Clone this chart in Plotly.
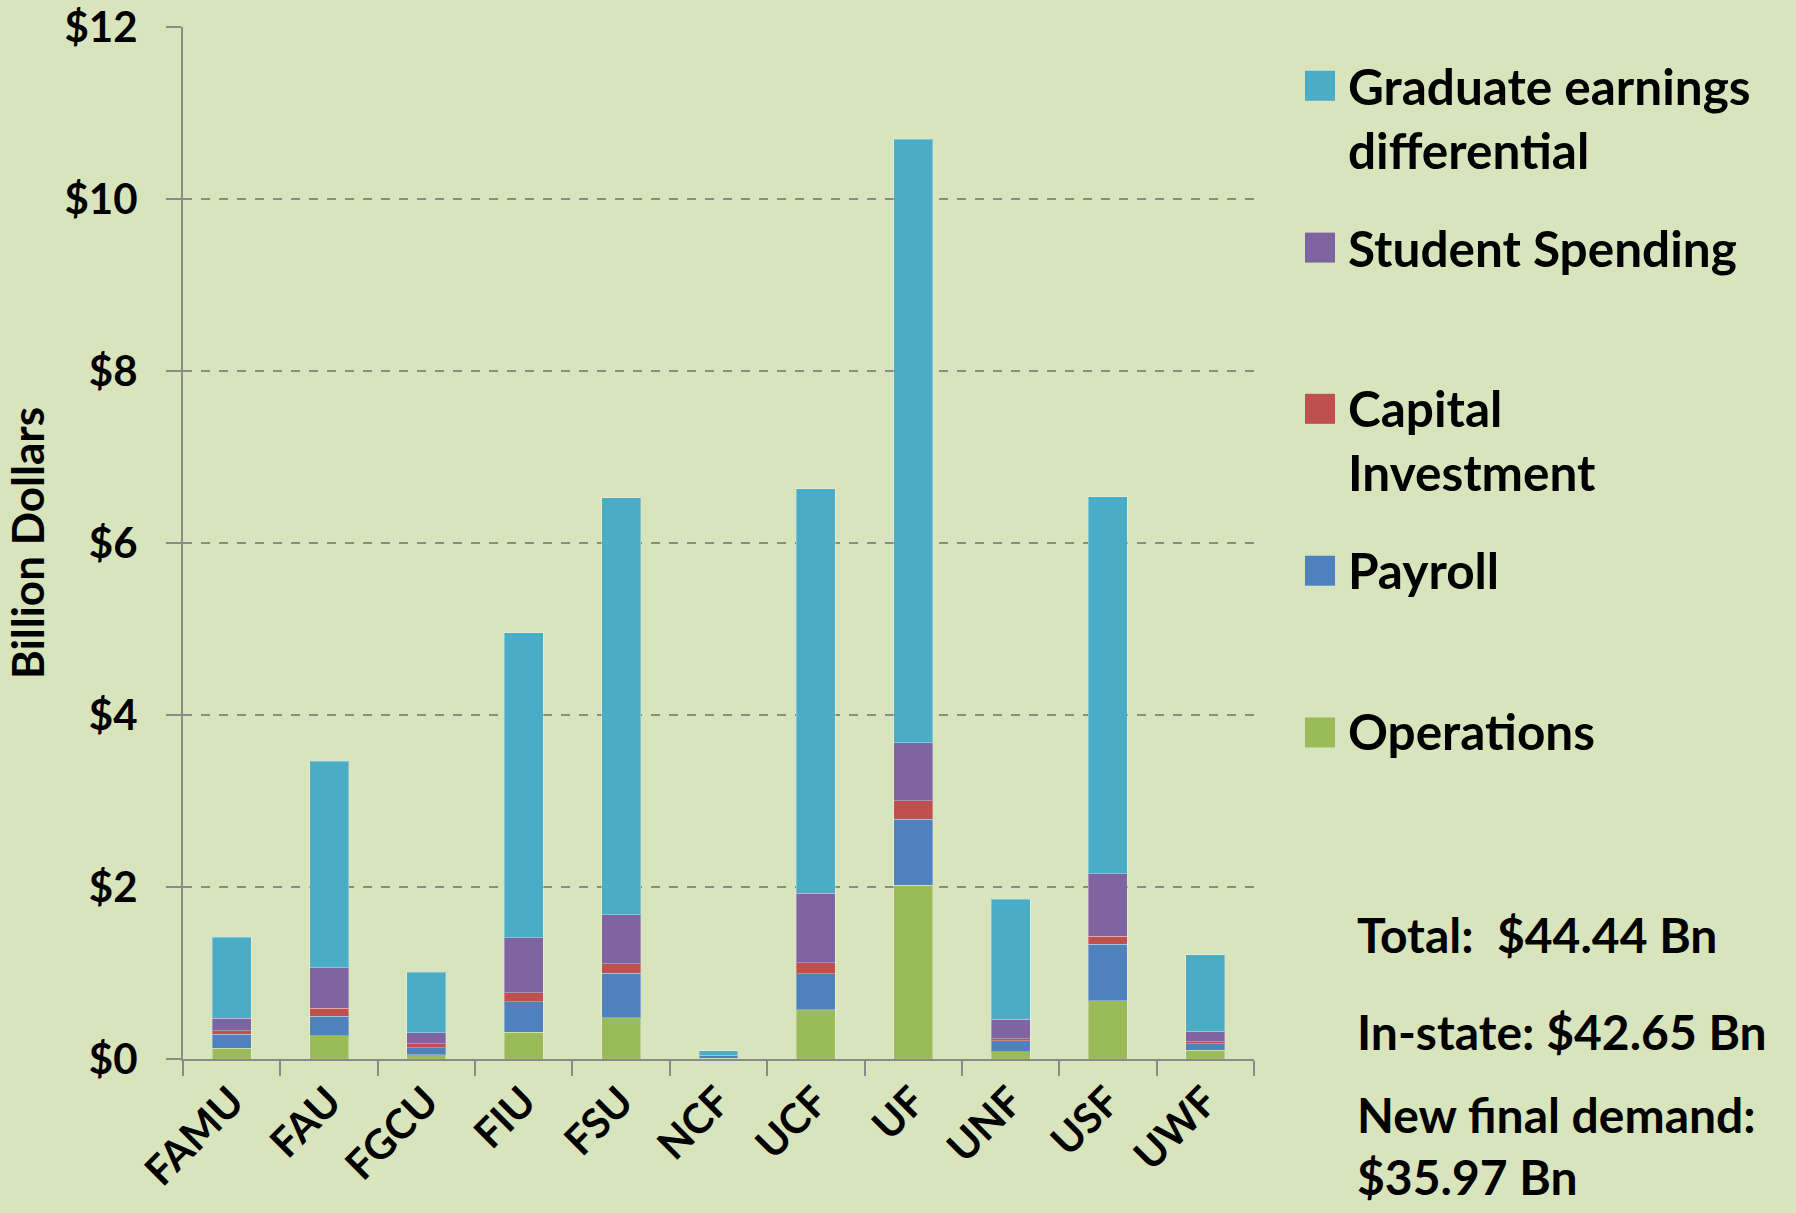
import plotly.graph_objects as go

categories = ["FAMU", "FAU", "FGCU", "FIU", "FSU", "NCF", "UCF", "UF", "UNF", "USF", "UWF"]
operations = [0.125, 0.27, 0.05, 0.31, 0.48, 0.01, 0.57, 2.02, 0.087, 0.68, 0.10]
payroll = [0.165, 0.23, 0.083, 0.355, 0.52, 0.025, 0.42, 0.765, 0.123, 0.654, 0.076]
capital = [0.036, 0.09, 0.043, 0.104, 0.11, 0.003, 0.13, 0.22, 0.024, 0.096, 0.024]
student = [0.15, 0.47, 0.127, 0.64, 0.567, 0.008, 0.81, 0.67, 0.226, 0.726, 0.122]
graduate = [0.94, 2.40, 0.707, 3.55, 4.85, 0.05, 4.70, 7.02, 1.40, 4.38, 0.89]

series_names = ["Operations", "Payroll", "Capital Investment", "Student Spending",
                "Graduate earnings differential"]
legend_labels = ["Operations", "Payroll", "Capital<br>Investment", "Student Spending",
                 "Graduate earnings<br>differential"]
series_values = [operations, payroll, capital, student, graduate]
colors = ["#9BBB59", "#4F81BD", "#C0504D", "#8064A2", "#4BACC6"]

y_tick_values = [0, 2, 4, 6, 8, 10, 12]
y_tick_labels = ["$0", "$2", "$4", "$6", "$8", "$10", "$12"]

stats_lines = ["Total:&nbsp; $44.44 Bn", "In-state: $42.65 Bn", "New final demand:<br>$35.97 Bn"]

W, H = 1796, 1213
L, R, T, B = 183, 1254, 27, 1059.5
BG = "#D8E4BC"
FONT = "Lato"


def px_x(px):
    return (px - L) / (R - L)


def px_y(py):
    return (B - py) / (B - T)


fig = go.Figure()
for name, vals, col in zip(series_names, series_values, colors):
    fig.add_trace(go.Bar(
        x=categories, y=vals, name=name,
        marker=dict(color=col, line=dict(color="rgba(255,255,255,0.3)", width=1)),
        showlegend=False,
    ))

# Manual legend (swatch + label)
legend_swatch_y = [732.8, 571, 409, 247.7, 85.8]
legend_text_y = [731.5, 570, 440, 247.7, 118]
for lab, col, sy, ty in zip(legend_labels, colors, legend_swatch_y, legend_text_y):
    fig.add_shape(type="rect", xref="paper", yref="paper",
                  x0=px_x(1305), x1=px_x(1335), y0=px_y(sy + 15), y1=px_y(sy - 15),
                  fillcolor=col, line=dict(width=0))
    fig.add_annotation(xref="paper", yref="paper", x=px_x(1346), y=px_y(ty),
                       xanchor="left", yanchor="middle", align="left", showarrow=False,
                       text=lab, font=dict(family=FONT, size=49.5, color="black", weight="bold"))

stats_y = [935, 1032, 1146]
for txt, ty in zip(stats_lines, stats_y):
    fig.add_annotation(xref="paper", yref="paper", x=px_x(1355), y=px_y(ty),
                       xanchor="left", yanchor="middle", align="left", showarrow=False,
                       text=txt, font=dict(family=FONT, size=48, color="black", weight="bold"))

fig.update_layout(
    barmode="stack",
    bargap=0.6,
    width=W, height=H,
    margin=dict(l=L, r=W - R, t=T, b=H - B, pad=0, autoexpand=False),
    paper_bgcolor=BG, plot_bgcolor=BG,
    font=dict(family=FONT, color="black"),
)

fig.update_xaxes(
    type="category",
    automargin=False,
    tickson="boundaries",
    ticks="outside", ticklen=15, tickwidth=2, tickcolor="#8A8A8A",
    showline=True, linecolor="#8A8A8A", linewidth=2,
    showgrid=False,
    tickangle=-45,
    tickfont=dict(family=FONT, size=41, color="black", weight="bold"),
)

fig.update_yaxes(
    range=[0, 12],
    automargin=False,
    tickmode="array", tickvals=y_tick_values, ticktext=y_tick_labels,
    ticklabeloverflow="allow",
    ticks="outside", ticklen=15, tickwidth=2, tickcolor="#8A8A8A",
    showline=True, linecolor="#8A8A8A", linewidth=2,
    showgrid=True, gridcolor="#8A8A8A", gridwidth=1.5, griddash="dash",
    zeroline=False,
    tickfont=dict(family=FONT, size=42, color="black", weight="bold"),
    ticklabelstandoff=20,
    title=dict(text="Billion Dollars", standoff=6,
               font=dict(family=FONT, size=44, color="black", weight="bold")),
)

fig.write_html("out.html", config={"displayModeBar": False},
               post_script="document.body.style.margin='0';document.body.style.overflow='hidden';")
